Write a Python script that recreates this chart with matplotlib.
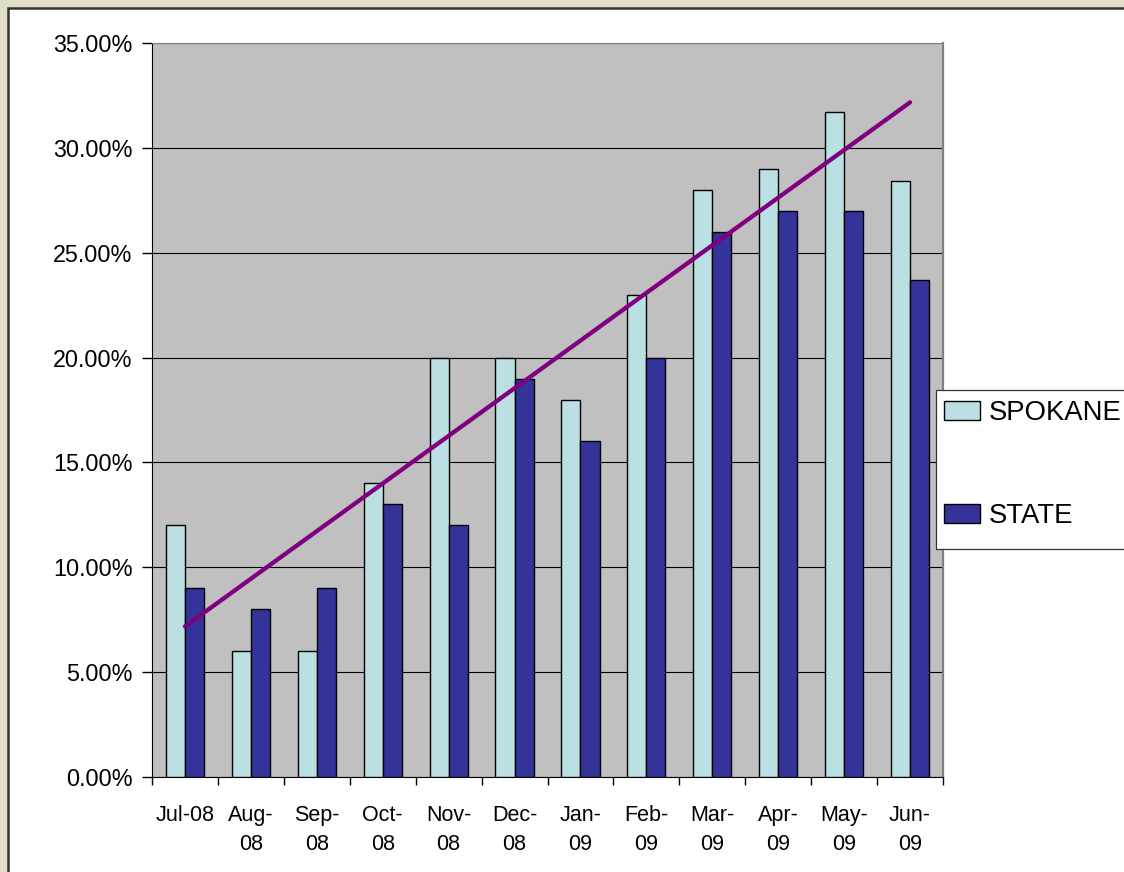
import numpy as np
import matplotlib
matplotlib.use('Agg')
import matplotlib.pyplot as plt
from matplotlib.patches import Rectangle
from matplotlib.ticker import FuncFormatter, FixedLocator

plt.rcParams['font.family'] = ['Liberation Sans', 'DejaVu Sans']

months = ["Jul-08", "Aug-\n08", "Sep-\n08", "Oct-\n08", "Nov-\n08", "Dec-\n08",
          "Jan-\n09", "Feb-\n09", "Mar-\n09", "Apr-\n09", "May-\n09", "Jun-\n09"]
spokane = [12.0, 6.0, 6.0, 14.0, 20.0, 20.0, 18.0, 23.0, 28.0, 29.0, 31.7, 28.4]
state = [9.0, 8.0, 9.0, 13.0, 12.0, 19.0, 16.0, 20.0, 26.0, 27.0, 27.0, 23.7]

W, H = 1124, 872
fig = plt.figure(figsize=(W/100, H/100), dpi=100)
fig.patch.set_facecolor('#E3DCC6')
# white chart area with dark frame
fig.patches.append(Rectangle((8/W, -0.01), 1.02, 1 - 8/H + 0.01, transform=fig.transFigure,
                             facecolor='white', edgecolor='#333333', linewidth=1.8, zorder=-5))
# legend box (taller than matplotlib's own frame, as in the original), drawn over the plot edge
fig.patches.append(Rectangle((936/W, 1 - 549/H), 0.2, (549-390)/H, transform=fig.transFigure,
                             facecolor='white', edgecolor='#333333', linewidth=0.9, zorder=4))

ax = fig.add_axes([152/W, 1 - 777/H, (943-152)/W, (777-43)/H])
ax.set_zorder(2)
ax.set_facecolor('#C0C0C0')

x = np.arange(len(months))
bw = 0.29
ax.bar(x - bw/2, spokane, bw, color='#BBE0E3', edgecolor='black', linewidth=1.0,
       label='SPOKANE', zorder=3)
ax.bar(x + bw/2, state, bw, color='#333399', edgecolor='black', linewidth=1.0,
       label='STATE', zorder=3)

# linear trendline of the SPOKANE series
k, b = np.polyfit(x, spokane, 1)
ends = np.array([x[0], x[-1]])
ax.plot(ends, k*ends + b, color='#800080', linewidth=3.1, solid_capstyle='round', zorder=4)

ax.set_xlim(-0.5, len(months) - 0.5)
ax.set_ylim(0, 35)
ax.yaxis.set_major_locator(FixedLocator(np.arange(0, 35.1, 5)))
ax.yaxis.set_major_formatter(FuncFormatter(lambda v, p: f"{v:.2f}%"))
ax.grid(axis='y', color='black', linewidth=0.8, zorder=1)
ax.set_axisbelow(True)

ax.set_xticks(np.arange(-0.5, len(months)), minor=False)
ax.set_xticklabels([])
ax.set_xticks(x, minor=True)
ax.set_xticklabels(months, minor=True, fontsize=15.5, linespacing=1.5)
ax.tick_params(axis='x', which='major', direction='out', length=6, width=1, color='black')
ax.tick_params(axis='x', which='minor', length=0, pad=20)
for lab in ax.get_xticklabels(minor=True):
    lab.set_verticalalignment('top')
ax.tick_params(axis='y', direction='out', length=7, width=1, labelsize=16.8, pad=7)

ax.spines['left'].set_color('black')
ax.spines['bottom'].set_color('black')
ax.spines['top'].set_color('#808080')
ax.spines['right'].set_color('#808080')
ax.spines['right'].set_linewidth(1.6)

handles, labels = ax.get_legend_handles_labels()
leg = fig.legend(handles, labels, loc='upper left', bbox_to_anchor=(936/W, 1 - 392/H),
                 fontsize=19.8, frameon=False,
                 borderpad=0.3, labelspacing=2.8, handlelength=1.3,
                 handleheight=0.72, handletextpad=0.33, borderaxespad=0)
leg.set_zorder(6)

fig.savefig('out.png', dpi=100, facecolor=fig.get_facecolor())
